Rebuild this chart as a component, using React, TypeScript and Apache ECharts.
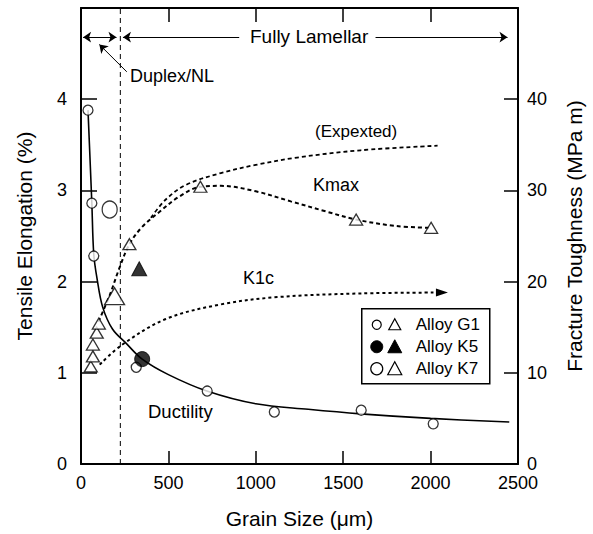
import React, { useEffect, useRef } from "react";
import * as echarts from "echarts";

// ---- data ----
const xMin = 0;
const xMax = 2500;
const xInterval = 500;
const leftMax = 5;
const rightMax = 50;

// Ductility fitted curve (tensile elongation %, left axis)
const ductilityCurve: [number, number][] = [
  [40, 3.88], [62, 2.86], [73, 2.3], [92, 2.03], [124, 1.72], [180, 1.48],
  [260, 1.32], [350, 1.15], [500, 0.98], [720, 0.8], [1000, 0.66],
  [1300, 0.6], [1600, 0.55], [2000, 0.5], [2450, 0.46],
];
// Alloy G1 elongation (open circles)
const g1ElongX = [40, 62, 73, 316, 722, 1106, 1603, 2015];
const g1ElongY = [3.88, 2.86, 2.28, 1.06, 0.8, 0.57, 0.59, 0.44];
// Alloy K5 elongation (filled circle)
const k5Elong: [number, number][] = [[350, 1.15]];
// Alloy K7 elongation (large open circle)
const k7Elong: [number, number][] = [[164, 2.79]];

// Alloy G1 toughness (open triangles, right axis)
const g1ToughX = [56, 68, 68, 90, 102, 277, 683, 1574, 2003];
const g1ToughY = [10.7, 11.8, 13.1, 14.4, 15.4, 24.1, 30.4, 26.8, 25.9];
// Alloy K5 toughness (filled triangle)
const k5Tough: [number, number][] = [[333, 21.4]];
// Alloy K7 toughness (large open triangle)
const k7Tough: [number, number][] = [[192, 18.4]];

// Toughness trend curves (right axis)
const kmaxCurve: [number, number][] = [
  [100, 15.6], [164, 18.5], [220, 21.5], [277, 24.1], [350, 26.0], [446, 27.6],
  [560, 29.3], [683, 30.4], [800, 30.5], [1000, 29.9], [1200, 28.8],
  [1400, 27.7], [1574, 26.8], [1800, 26.1], [2003, 25.9],
];
const expectedCurve: [number, number][] = [
  [400, 27.0], [485, 29.0], [600, 30.6], [800, 31.9], [1000, 32.8],
  [1236, 33.6], [1600, 34.4], [2040, 34.9],
];
const k1cCurve: [number, number][] = [
  [107, 10.9], [237, 13.1], [485, 15.9], [800, 17.5], [1123, 18.3],
  [1600, 18.7], [2065, 18.8],
];

// microstructure boundary and annotation row
const duplexBoundary = 225;
const boundaryLine: [number, number][] = [[duplexBoundary, 0], [duplexBoundary, leftMax]];
const arrowRowY = 4.68;

const FONT = "'Liberation Sans', Arial, Helvetica, sans-serif";
const BLACK = "#000";

const zip = (xs: number[], ys: number[]) => xs.map((x, i) => [x, ys[i]]);

export default function App() {
  const ref = useRef<HTMLDivElement>(null);

  useEffect(() => {
    document.body.style.margin = "0";
    const chart = echarts.init(ref.current!, null, { renderer: "svg" });

    const k1cData: any[] = k1cCurve.map((p, i) =>
      i === k1cCurve.length - 1
        ? { value: p, symbol: "triangle", symbolSize: [8, 12], symbolRotate: -90, itemStyle: { color: BLACK } }
        : p
    );

    const openStyle = { color: "#fff", borderColor: BLACK, borderWidth: 1.3 };
    const fillStyle = { color: BLACK, borderColor: BLACK, borderWidth: 1 };
    const title = { color: BLACK, fontSize: 21, fontFamily: FONT };
    const tickLabel = { color: BLACK, fontSize: 18, fontFamily: FONT };

    const option: any = {
      animation: false,
      backgroundColor: "#fff",
      grid: { left: 81, right: 69, top: 8, bottom: 69, show: false },
      xAxis: [
        {
          type: "value", min: xMin, max: xMax, interval: xInterval, position: "bottom",
          axisLine: { show: true, onZero: false, lineStyle: { color: BLACK, width: 2 } },
          axisTick: { show: true, inside: true, length: 13, lineStyle: { color: BLACK, width: 1.5 } },
          axisLabel: { ...tickLabel, margin: 10, formatter: (v: number) => String(v) },
          splitLine: { show: false },
          name: "Grain Size (μm)", nameLocation: "middle", nameGap: 44,
          nameTextStyle: title,
        },
        {
          type: "value", min: xMin, max: xMax, interval: xInterval, position: "top",
          axisLine: { show: true, onZero: false, lineStyle: { color: BLACK, width: 2 } },
          axisTick: { show: true, inside: true, length: 14, lineStyle: { color: BLACK, width: 1.5 } },
          axisLabel: { show: false },
          splitLine: { show: false },
        },
      ],
      yAxis: [
        {
          type: "value", min: 0, max: leftMax, interval: 1, position: "left",
          axisLine: { show: true, onZero: false, lineStyle: { color: BLACK, width: 2 } },
          axisTick: { show: true, inside: true, length: 16, lineStyle: { color: BLACK, width: 1.5 } },
          axisLabel: {
            ...tickLabel, margin: 14,
            formatter: (v: number) => (v === leftMax ? "" : String(v)),
          },
          splitLine: { show: false },
          name: "Tensile Elongation (%)", nameLocation: "middle", nameGap: 46,
          nameTextStyle: title,
        },
        {
          type: "value", min: 0, max: rightMax, interval: 10, position: "right",
          axisLine: { show: true, onZero: false, lineStyle: { color: BLACK, width: 2 } },
          axisTick: { show: true, inside: true, length: 14, lineStyle: { color: BLACK, width: 1.5 } },
          axisLabel: {
            ...tickLabel, margin: 9,
            formatter: (v: number) => (v === rightMax ? "" : String(v)),
          },
          splitLine: { show: false },
          name: "Fracture Toughness (MPa m)", nameLocation: "middle", nameGap: 46,
          nameTextStyle: title,
        },
      ],
      series: [
        {
          name: "Boundary", type: "line", xAxisIndex: 0, yAxisIndex: 0,
          data: boundaryLine, symbol: "none",
          lineStyle: { color: BLACK, width: 1, type: [5, 4] }, z: 1,
        },
        {
          name: "Ductility", type: "line", xAxisIndex: 0, yAxisIndex: 0,
          data: ductilityCurve, smooth: 0.35, symbol: "none",
          lineStyle: { color: BLACK, width: 1.6 }, z: 2,
          markLine: {
            silent: true, animation: false, symbol: ["arrow", "arrow"], symbolSize: 8,
            label: { show: false },
            lineStyle: { color: BLACK, width: 1.2, type: "solid" },
            data: [
              [
                { coord: [12, arrowRowY], symbol: "arrow" },
                { coord: [duplexBoundary - 22, arrowRowY], symbol: "arrow" },
              ],
              [
                { coord: [duplexBoundary + 15, arrowRowY], symbol: "arrow" },
                { coord: [905, arrowRowY], symbol: "none" },
              ],
              [
                { coord: [1685, arrowRowY], symbol: "none" },
                { coord: [2440, arrowRowY], symbol: "arrow" },
              ],
              [
                { coord: [105, 4.6], symbol: "arrow", lineStyle: { curveness: 0.35, width: 1 } },
                { coord: [262, 4.3], symbol: "none" },
              ],
            ],
          },
        },
        {
          name: "Kmax", type: "line", xAxisIndex: 0, yAxisIndex: 1,
          data: kmaxCurve, smooth: 0.35, symbol: "none",
          lineStyle: { color: BLACK, width: 2, type: [4, 3] }, z: 2,
        },
        {
          name: "Expected", type: "line", xAxisIndex: 0, yAxisIndex: 1,
          data: expectedCurve, smooth: 0.35, symbol: "none",
          lineStyle: { color: BLACK, width: 1.8, type: [4, 3] }, z: 2,
        },
        {
          name: "K1c", type: "line", xAxisIndex: 0, yAxisIndex: 1,
          data: k1cData, smooth: 0.35, symbol: "none", showSymbol: true,
          lineStyle: { color: BLACK, width: 2, type: [3, 3] }, z: 2,
        },
        {
          name: "G1 elongation", type: "scatter", xAxisIndex: 0, yAxisIndex: 0,
          data: zip(g1ElongX, g1ElongY), symbol: "circle", symbolSize: 10,
          itemStyle: openStyle, z: 5,
        },
        {
          name: "K5 elongation", type: "scatter", xAxisIndex: 0, yAxisIndex: 0,
          data: k5Elong, symbol: "circle", symbolSize: 15, itemStyle: fillStyle, z: 5,
        },
        {
          name: "K7 elongation", type: "scatter", xAxisIndex: 0, yAxisIndex: 0,
          data: k7Elong, symbol: "circle", symbolSize: [15, 17], itemStyle: openStyle, z: 5,
        },
        {
          name: "G1 toughness", type: "scatter", xAxisIndex: 0, yAxisIndex: 1,
          data: zip(g1ToughX, g1ToughY), symbol: "triangle", symbolSize: [13, 11],
          itemStyle: openStyle, z: 5,
        },
        {
          name: "K5 toughness", type: "scatter", xAxisIndex: 0, yAxisIndex: 1,
          data: k5Tough, symbol: "triangle", symbolSize: [15, 14], itemStyle: fillStyle, z: 5,
        },
        {
          name: "K7 toughness", type: "scatter", xAxisIndex: 0, yAxisIndex: 1,
          data: k7Tough, symbol: "triangle", symbolSize: [20, 17], itemStyle: openStyle, z: 5,
        },
      ],
      graphic: [
        { type: "text", left: 250, top: 27, style: { text: "Fully Lamellar", fontSize: 19, fontFamily: FONT, fill: BLACK } },
        { type: "text", left: 130, top: 67, style: { text: "Duplex/NL", fontSize: 18, fontFamily: FONT, fill: BLACK } },
        { type: "text", left: 315, top: 123, style: { text: "(Expexted)", fontSize: 17, fontFamily: FONT, fill: BLACK } },
        { type: "text", left: 313, top: 176, style: { text: "Kmax", fontSize: 18, fontFamily: FONT, fill: BLACK } },
        { type: "text", left: 243, top: 269, style: { text: "K1c", fontSize: 18, fontFamily: FONT, fill: BLACK } },
        { type: "text", left: 148, top: 402, style: { text: "Ductility", fontSize: 18.5, fontFamily: FONT, fill: BLACK } },
        {
          type: "group", left: 361, top: 308,
          children: [
            { type: "rect", shape: { x: 0, y: 0, width: 128, height: 75 }, style: { fill: "#fff", stroke: BLACK, lineWidth: 1.5 } },
            { type: "circle", shape: { cx: 15, cy: 16, r: 4.5 }, style: { fill: "#fff", stroke: BLACK, lineWidth: 1.2 } },
            { type: "polygon", shape: { points: [[33, 10], [27, 21], [39, 21]] }, style: { fill: "#fff", stroke: BLACK, lineWidth: 1.2 } },
            { type: "text", x: 54, y: 16, style: { text: "Alloy G1", fontSize: 17, fontFamily: FONT, fill: BLACK, verticalAlign: "middle" } },
            { type: "circle", shape: { cx: 15, cy: 38, r: 6 }, style: { fill: BLACK, stroke: BLACK, lineWidth: 1 } },
            { type: "polygon", shape: { points: [[33, 31], [26, 44], [40, 44]] }, style: { fill: BLACK, stroke: BLACK, lineWidth: 1 } },
            { type: "text", x: 54, y: 38, style: { text: "Alloy K5", fontSize: 17, fontFamily: FONT, fill: BLACK, verticalAlign: "middle" } },
            { type: "circle", shape: { cx: 15, cy: 60, r: 6 }, style: { fill: "#fff", stroke: BLACK, lineWidth: 1.2 } },
            { type: "polygon", shape: { points: [[33, 53], [26, 66], [40, 66]] }, style: { fill: "#fff", stroke: BLACK, lineWidth: 1.2 } },
            { type: "text", x: 54, y: 60, style: { text: "Alloy K7", fontSize: 17, fontFamily: FONT, fill: BLACK, verticalAlign: "middle" } },
          ],
        },
      ],
    };

    chart.setOption(option);
    return () => chart.dispose();
  }, []);

  return (
    <div
      ref={ref}
      style={{ position: "absolute", left: 0, top: 0, width: 593, height: 534, background: "#fff" }}
    />
  );
}
